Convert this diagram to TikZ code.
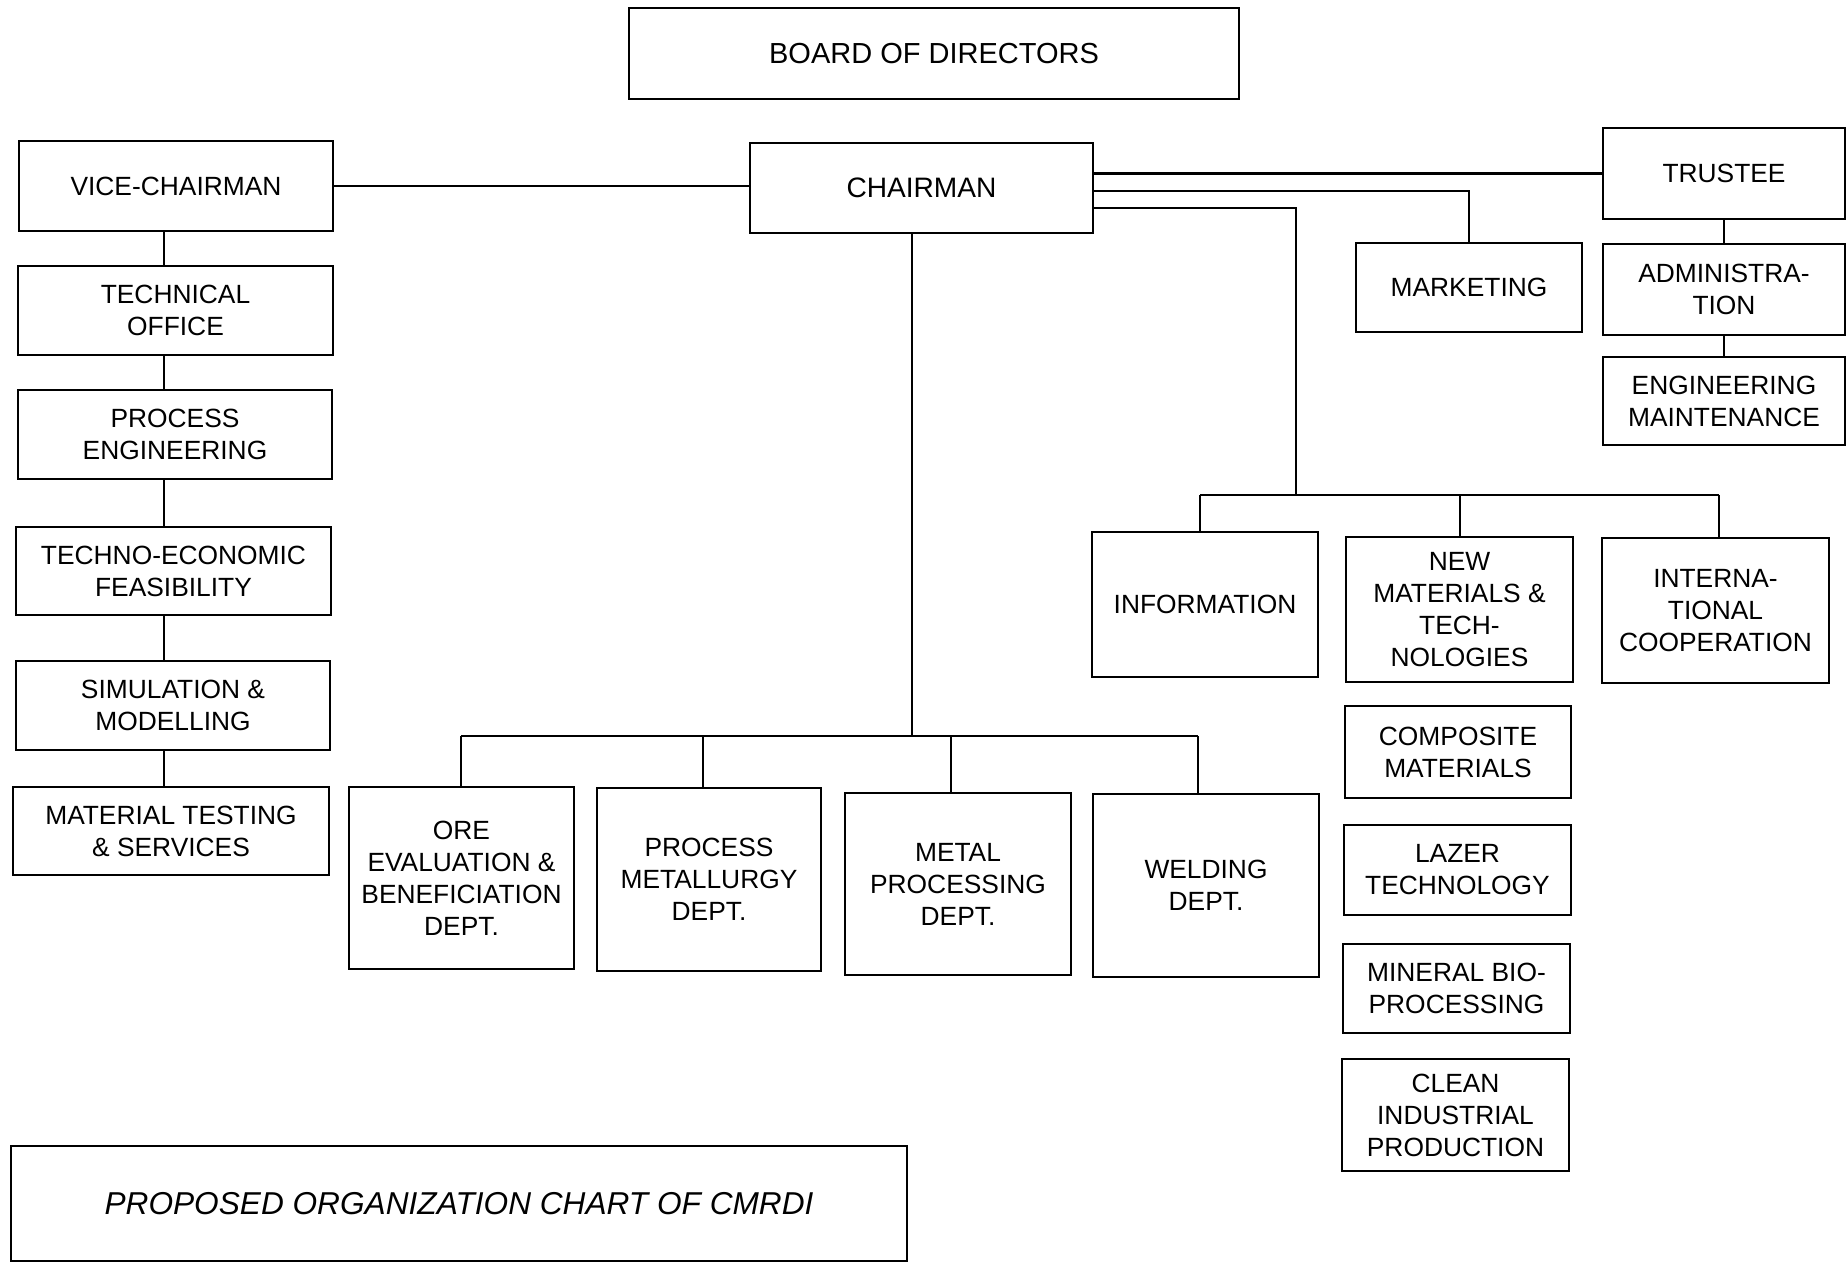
\documentclass[tikz,border=0pt]{standalone}
\usepackage{fontspec}
\setmainfont{Liberation Sans}
\begin{document}
\begin{tikzpicture}[x=1cm,y=1cm,
  box/.style={draw, line width=0.7pt, align=center, inner sep=0pt,
    font=\fontsize{7.5}{9.1}\selectfont},
  conn/.style={line width=0.6pt}]
\useasboundingbox (0,0) rectangle (18.47,-12.62);
% top
\node[box, minimum width=6.10cm, minimum height=0.91cm, font=\fontsize{8.25}{10}\selectfont] (board) at (9.34,-0.535) {BOARD OF DIRECTORS};
\node[box, minimum width=3.14cm, minimum height=0.90cm] (vc) at (1.76,-1.86) {VICE-CHAIRMAN};
\node[box, minimum width=3.43cm, minimum height=0.90cm, font=\fontsize{8}{10}\selectfont] (chair) at (9.215,-1.88) {CHAIRMAN};
\node[box, minimum width=2.42cm, minimum height=0.91cm] (trustee) at (17.24,-1.735) {TRUSTEE};
% left column
\node[box, minimum width=3.15cm, minimum height=0.89cm] (tech) at (1.755,-3.105) {TECHNICAL\\OFFICE};
\node[box, minimum width=3.14cm, minimum height=0.89cm] (proceng) at (1.75,-4.345) {PROCESS\\ENGINEERING};
\node[box, minimum width=3.15cm, minimum height=0.88cm] (techno) at (1.735,-5.71) {TECHNO-ECONOMIC\\FEASIBILITY};
\node[box, minimum width=3.14cm, minimum height=0.89cm] (sim) at (1.73,-7.055) {SIMULATION \&\\MODELLING};
\node[box, minimum width=3.16cm, minimum height=0.88cm] (mat) at (1.71,-8.31) {MATERIAL TESTING\\\& SERVICES};
% right top
\node[box, minimum width=2.26cm, minimum height=0.89cm] (mkt) at (14.69,-2.875) {MARKETING};
\node[box, minimum width=2.42cm, minimum height=0.91cm] (admin) at (17.24,-2.895) {ADMINISTRA-\\TION};
\node[box, minimum width=2.42cm, minimum height=0.88cm] (engm) at (17.24,-4.01) {ENGINEERING\\MAINTENANCE};
% info row
\node[box, minimum width=2.26cm, minimum height=1.45cm] (info) at (12.05,-6.045) {INFORMATION};
\node[box, minimum width=2.27cm, minimum height=1.45cm] (newmat) at (14.595,-6.095) {NEW\\MATERIALS \&\\TECH-\\NOLOGIES};
\node[box, minimum width=2.27cm, minimum height=1.45cm] (intl) at (17.155,-6.105) {INTERNA-\\TIONAL\\COOPERATION};
% stack below new materials
\node[box, minimum width=2.26cm, minimum height=0.92cm] (comp) at (14.58,-7.52) {COMPOSITE\\MATERIALS};
\node[box, minimum width=2.27cm, minimum height=0.90cm] (lazer) at (14.575,-8.70) {LAZER\\TECHNOLOGY};
\node[box, minimum width=2.27cm, minimum height=0.89cm] (mineral) at (14.565,-9.885) {MINERAL BIO-\\PROCESSING};
\node[box, minimum width=2.27cm, minimum height=1.12cm] (clean) at (14.555,-11.15) {CLEAN\\INDUSTRIAL\\PRODUCTION};
% departments
\node[box, minimum width=2.25cm, minimum height=1.82cm] (ore) at (4.615,-8.78) {ORE\\EVALUATION \&\\BENEFICIATION\\DEPT.};
\node[box, minimum width=2.24cm, minimum height=1.83cm] (pmet) at (7.09,-8.795) {PROCESS\\METALLURGY\\DEPT.};
\node[box, minimum width=2.26cm, minimum height=1.82cm] (metal) at (9.58,-8.84) {METAL\\PROCESSING\\DEPT.};
\node[box, minimum width=2.26cm, minimum height=1.83cm] (weld) at (12.06,-8.855) {WELDING\\DEPT.};
% title
\node[box, minimum width=8.96cm, minimum height=1.15cm, font=\fontsize{9}{11}\selectfont\itshape] (title) at (4.59,-12.035) {PROPOSED ORGANIZATION CHART OF CMRDI};

% helper coordinates
\coordinate (lx) at (1.64,0);
\coordinate (ib) at (12.96,-4.95);
\coordinate (db) at (9.12,-7.36);
% drop positions
\coordinate (d1) at (4.61,0);
\coordinate (d2) at (7.03,0);
\coordinate (d3) at (9.51,0);
\coordinate (d4) at (11.98,0);
\coordinate (i1) at (12.00,0);
\coordinate (i2) at (14.60,0);
\coordinate (i3) at (17.19,0);

% connectors
\draw[conn] (vc.east) -- (vc.east -| chair.west);
\draw[conn] (chair.east |- trustee.west) -- (trustee.west);
\draw[conn] ([yshift=-0.03cm]chair.east) -| (mkt.north);
\draw[conn] ([yshift=-0.20cm]chair.east) -| (ib);
\draw[conn] (i1 |- ib) -- (i3 |- ib);
\draw[conn] (i1 |- ib) -- (i1 |- info.north);
\draw[conn] (i2 |- ib) -- (i2 |- newmat.north);
\draw[conn] (i3 |- ib) -- (i3 |- intl.north);
\draw[conn] (chair.south -| db) -- (db);
\draw[conn] (d1 |- db) -- (d4 |- db);
\draw[conn] (d1 |- db) -- (d1 |- ore.north);
\draw[conn] (d2 |- db) -- (d2 |- pmet.north);
\draw[conn] (d3 |- db) -- (d3 |- metal.north);
\draw[conn] (d4 |- db) -- (d4 |- weld.north);
\draw[conn] (vc.south -| lx) -- (tech.north -| lx);
\draw[conn] (tech.south -| lx) -- (proceng.north -| lx);
\draw[conn] (proceng.south -| lx) -- (techno.north -| lx);
\draw[conn] (techno.south -| lx) -- (sim.north -| lx);
\draw[conn] (sim.south -| lx) -- (mat.north -| lx);
\draw[conn] (trustee.south) -- (admin.north);
\draw[conn] (admin.south) -- (engm.north);
\end{tikzpicture}
\end{document}
